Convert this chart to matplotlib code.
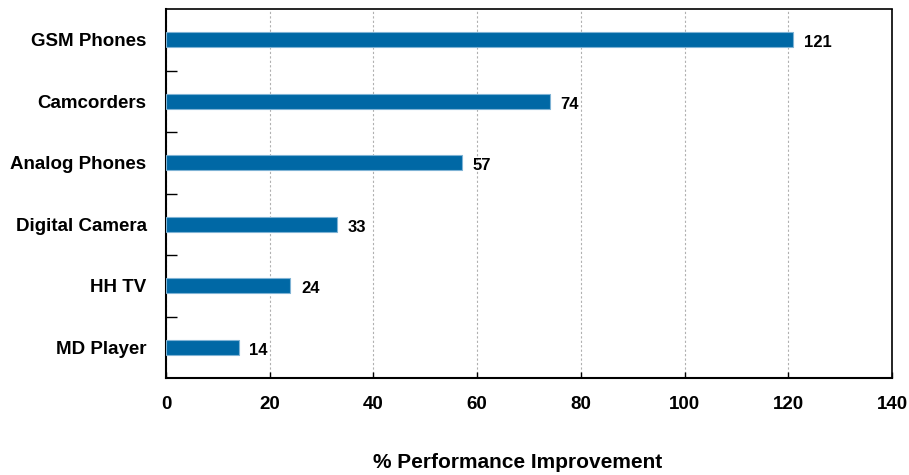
import matplotlib.pyplot as plt
from matplotlib.ticker import FixedLocator

categories = ['MD Player', 'HH TV', 'Digital Camera', 'Analog Phones', 'Camcorders', 'GSM Phones']
values = [14, 24, 33, 57, 74, 121]

plt.rcParams['font.family'] = ['Liberation Sans', 'DejaVu Sans']
plt.rcParams['font.weight'] = 'bold'

fig = plt.figure(figsize=(9.09, 4.75), dpi=100)
ax = fig.add_axes([166 / 909, 1 - 378 / 475, 726 / 909, 369 / 475])

pos = list(range(len(categories)))
ax.barh(pos, values, height=0.25, color='#0068a5', edgecolor='#7fb3d5', linewidth=0.8, zorder=3)
for p, v in zip(pos, values):
    ax.text(v + 2.1, p - 0.05, str(v), va='center', ha='left', fontsize=12, fontweight='bold')

ax.set_xlim(0, 140)
ax.set_ylim(-0.5, 5.5)
ax.set_xticks(range(0, 141, 20))
ax.set_yticks(pos)
ax.set_yticklabels(categories, fontsize=13.5, fontweight='bold')
ax.yaxis.set_minor_locator(FixedLocator([0.5, 1.5, 2.5, 3.5, 4.5]))
ax.tick_params(axis='y', which='major', length=0, pad=14)
ax.tick_params(axis='y', which='minor', direction='in', length=8, width=1)
ax.tick_params(axis='x', direction='in', length=4, width=1, labelsize=13.5, pad=13)
for lbl in ax.get_xticklabels():
    lbl.set_fontweight('bold')

ax.grid(axis='x', linestyle=(0, (2, 2)), color='#b0b0b0', linewidth=0.8, zorder=0)
ax.spines['left'].set_linewidth(1.5)
ax.spines['bottom'].set_linewidth(1.5)
ax.spines['top'].set_linewidth(1.2)
ax.spines['right'].set_linewidth(1.2)
ax.spines['right'].set_linestyle((0, (1, 1)))

ax.set_xlabel('% Performance Improvement', fontsize=15, fontweight='bold')
ax.xaxis.set_label_coords(0.484, -0.203)

fig.savefig('out.png', dpi=100)
